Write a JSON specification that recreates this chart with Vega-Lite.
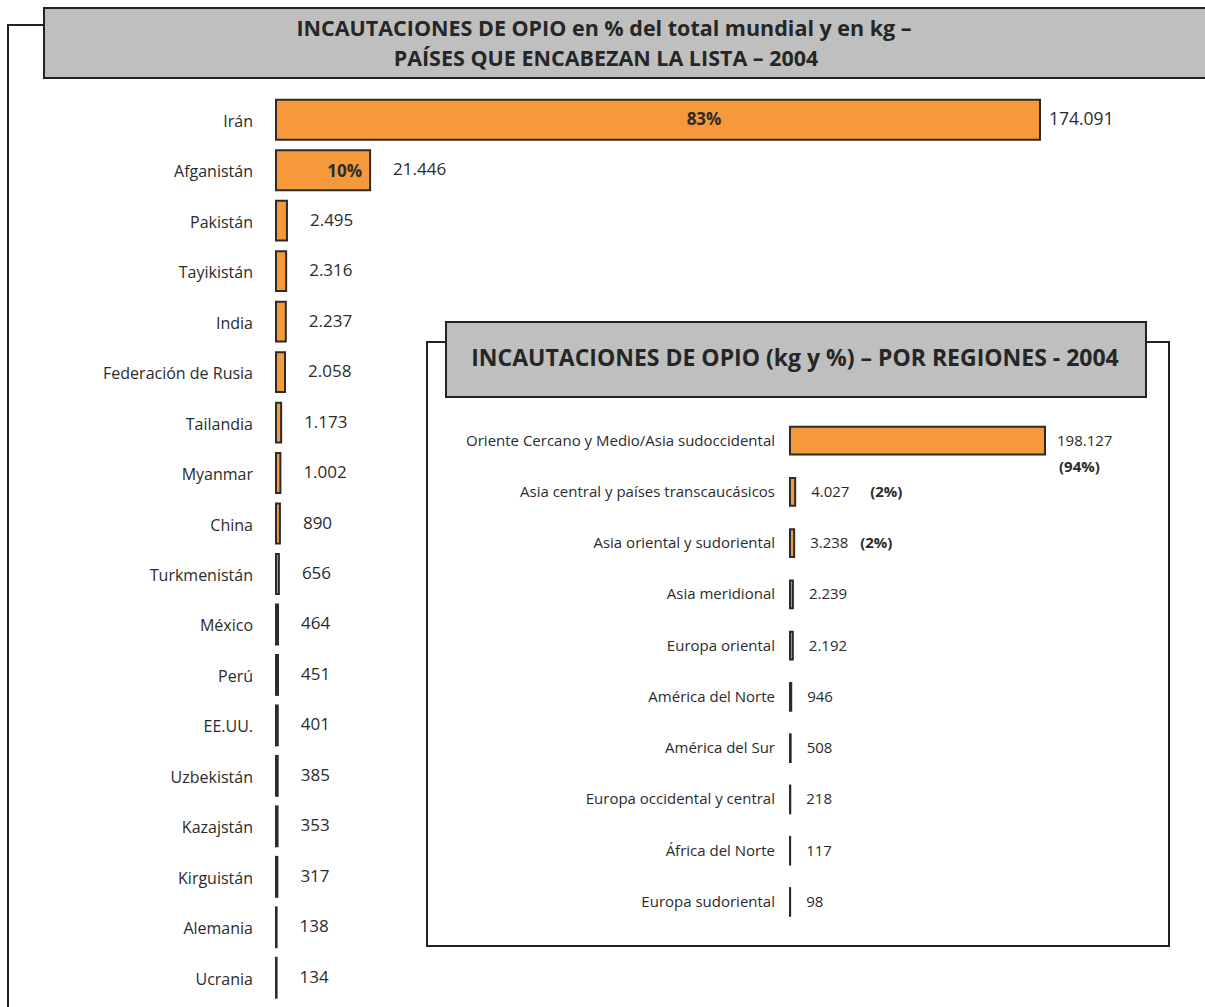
{
  "$schema": "https://vega.github.io/schema/vega-lite/v6.json",
  "width": 1205,
  "height": 1007,
  "padding": 0,
  "autosize": {"type": "fit", "contains": "padding"},
  "background": "white",
  "config": {
    "view": {"stroke": null},
    "font": "Open Sans",
    "text": {"font": "Open Sans", "color": "#2b2b2b"},
    "locale": {"number": {"decimal": ",", "thousands": ".", "grouping": [3], "currency": ["", " €"]}}
  },
  "resolve": {"scale": {"x": "independent", "y": "independent"}},
  "layer": [
    {
      "data": {"values": [{}]},
      "mark": {"type": "rect", "x": 7, "x2": 9, "y": 24, "y2": 1010, "fill": "#222222"},
      "encoding": {}
    },
    {
      "data": {"values": [{}]},
      "mark": {"type": "rect", "x": 7, "x2": 44, "y": 24, "y2": 26, "fill": "#222222"},
      "encoding": {}
    },
    {
      "data": {"values": [{}]},
      "mark": {"type": "rect", "x": 44, "x2": 1215, "y": 8, "y2": 78, "fill": "#bfbfbf", "stroke": "#222222", "strokeWidth": 2},
      "encoding": {}
    },
    {
      "data": {"values": [{}]},
      "mark": {"type": "text", "x": 604, "y": 30, "align": "center", "baseline": "middle", "fontSize": 21.5, "fontWeight": "bold", "color": "#262626",
        "text": "INCAUTACIONES DE OPIO en % del total mundial y en kg –"},
      "encoding": {}
    },
    {
      "data": {"values": [{}]},
      "mark": {"type": "text", "x": 606, "y": 59.5, "align": "center", "baseline": "middle", "fontSize": 21.5, "fontWeight": "bold", "color": "#262626",
        "text": "PAÍSES QUE ENCABEZAN LA LISTA – 2004"},
      "encoding": {}
    },
    {
      "data": {"values": [
        {"country": "Irán", "kg": 174091, "pct": "83%"},
        {"country": "Afganistán", "kg": 21446, "pct": "10%"},
        {"country": "Pakistán", "kg": 2495},
        {"country": "Tayikistán", "kg": 2316},
        {"country": "India", "kg": 2237},
        {"country": "Federación de Rusia", "kg": 2058},
        {"country": "Tailandia", "kg": 1173},
        {"country": "Myanmar", "kg": 1002},
        {"country": "China", "kg": 890},
        {"country": "Turkmenistán", "kg": 656},
        {"country": "México", "kg": 464},
        {"country": "Perú", "kg": 451},
        {"country": "EE.UU.", "kg": 401},
        {"country": "Uzbekistán", "kg": 385},
        {"country": "Kazajstán", "kg": 353},
        {"country": "Kirguistán", "kg": 317},
        {"country": "Alemania", "kg": 138},
        {"country": "Ucrania", "kg": 134}
      ]},
      "encoding": {
        "y": {"field": "country", "type": "nominal", "sort": null, "axis": null,
          "scale": {"range": [94.5, 1003], "paddingInner": 0.21, "paddingOuter": 0.105}},
        "x": {"field": "kg", "type": "quantitative", "axis": null,
          "scale": {"domain": [0, 174091], "range": [276, 1040], "nice": false, "zero": true}}
      },
      "layer": [
        {"mark": {"type": "bar", "fill": "#f5993b", "stroke": "#2b2b2b", "strokeWidth": 2}},
        {"mark": {"type": "text", "align": "right", "baseline": "middle", "dx": -23, "dy": 2, "fontSize": 16},
          "encoding": {"x": {"datum": 0}, "text": {"field": "country"}}},
        {"transform": [{"filter": "datum.country !== 'Irán'"}],
          "mark": {"type": "text", "align": "left", "baseline": "middle", "dx": 23, "fontSize": 17},
          "encoding": {"text": {"field": "kg", "type": "quantitative", "format": ",d"}}},
        {"transform": [{"filter": "datum.country === 'Irán'"}],
          "mark": {"type": "text", "align": "left", "baseline": "middle", "dx": 9, "fontSize": 17.5},
          "encoding": {"text": {"field": "kg", "type": "quantitative", "format": ",d"}}},
        {"transform": [{"filter": "datum.country === 'Irán'"}],
          "mark": {"type": "text", "align": "center", "baseline": "middle", "dx": -336, "fontSize": 17, "fontWeight": "bold"},
          "encoding": {"text": {"field": "pct"}}},
        {"transform": [{"filter": "datum.country === 'Afganistán'"}],
          "mark": {"type": "text", "align": "right", "baseline": "middle", "dx": -8, "dy": 2, "fontSize": 17, "fontWeight": "bold"},
          "encoding": {"text": {"field": "pct"}}}
      ]
    },
    {
      "data": {"values": [{}]},
      "mark": {"type": "rect", "x": 427, "x2": 1169, "y": 342, "y2": 946, "fill": "white", "stroke": "#222222", "strokeWidth": 2},
      "encoding": {}
    },
    {
      "data": {"values": [{}]},
      "mark": {"type": "rect", "x": 446, "x2": 1146, "y": 322, "y2": 397, "fill": "#bfbfbf", "stroke": "#222222", "strokeWidth": 2},
      "encoding": {}
    },
    {
      "data": {"values": [{}]},
      "mark": {"type": "text", "x": 795, "y": 359, "align": "center", "baseline": "middle", "fontSize": 23, "fontWeight": "bold", "color": "#262626",
        "text": "INCAUTACIONES DE OPIO (kg y %) – POR REGIONES - 2004"},
      "encoding": {}
    },
    {
      "data": {"values": [
        {"region": "Oriente Cercano y Medio/Asia sudoccidental", "kg": 198127, "pct": "(94%)"},
        {"region": "Asia central y países transcaucásicos", "kg": 4027, "pct": "(2%)"},
        {"region": "Asia oriental y sudoriental", "kg": 3238, "pct": "(2%)"},
        {"region": "Asia meridional", "kg": 2239},
        {"region": "Europa oriental", "kg": 2192},
        {"region": "América del Norte", "kg": 946},
        {"region": "América del Sur", "kg": 508},
        {"region": "Europa occidental y central", "kg": 218},
        {"region": "África del Norte", "kg": 117},
        {"region": "Europa sudoriental", "kg": 98}
      ]},
      "encoding": {
        "y": {"field": "region", "type": "nominal", "sort": null, "axis": null,
          "scale": {"range": [414.9, 927.6], "paddingInner": 0.46, "paddingOuter": 0.23}},
        "x": {"field": "kg", "type": "quantitative", "axis": null,
          "scale": {"domain": [0, 198127], "range": [790, 1045], "nice": false, "zero": true}}
      },
      "layer": [
        {"mark": {"type": "bar", "fill": "#f5993b", "stroke": "#2b2b2b", "strokeWidth": 2}},
        {"mark": {"type": "text", "align": "right", "baseline": "middle", "dx": -15, "fontSize": 15},
          "encoding": {"x": {"datum": 0}, "text": {"field": "region"}}},
        {"transform": [{"filter": "datum.kg < 100000"}],
          "mark": {"type": "text", "align": "left", "baseline": "middle", "dx": 16, "fontSize": 15},
          "encoding": {"text": {"field": "kg", "type": "quantitative", "format": ",d"}}},
        {"transform": [{"filter": "datum.kg >= 100000"}],
          "mark": {"type": "text", "align": "left", "baseline": "middle", "dx": 12, "fontSize": 15},
          "encoding": {"text": {"field": "kg", "type": "quantitative", "format": ",d"}}},
        {"transform": [{"filter": "datum.region === 'Oriente Cercano y Medio/Asia sudoccidental'"}],
          "mark": {"type": "text", "align": "left", "baseline": "middle", "dx": 14, "dy": 26, "fontSize": 15, "fontWeight": "bold"},
          "encoding": {"text": {"field": "pct"}}},
        {"transform": [{"filter": "datum.region === 'Asia central y países transcaucásicos'"}],
          "mark": {"type": "text", "align": "left", "baseline": "middle", "dx": 75, "fontSize": 15, "fontWeight": "bold"},
          "encoding": {"text": {"field": "pct"}}},
        {"transform": [{"filter": "datum.region === 'Asia oriental y sudoriental'"}],
          "mark": {"type": "text", "align": "left", "baseline": "middle", "dx": 66, "fontSize": 15, "fontWeight": "bold"},
          "encoding": {"text": {"field": "pct"}}}
      ]
    }
  ]
}
